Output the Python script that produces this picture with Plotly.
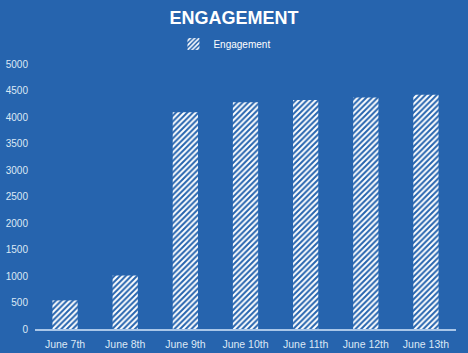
import plotly.graph_objects as go

categories = ["June 7th", "June 8th", "June 9th", "June 10th", "June 11th", "June 12th", "June 13th"]
engagement = [540, 1010, 4090, 4280, 4320, 4370, 4420]
y_ticks = [0, 500, 1000, 1500, 2000, 2500, 3000, 3500, 4000, 4500, 5000]

BG = "#2664AE"
TXT = "#DCE8F5"

fig = go.Figure()
fig.add_trace(go.Bar(
    x=categories, y=engagement, name="Engagement",
    marker=dict(color=BG, line=dict(width=0),
                pattern=dict(shape="/", fgcolor="white", bgcolor=BG, fgopacity=1,
                             size=4, solidity=0.5, fillmode="replace")),
    showlegend=True,
))

fig.update_layout(
    width=468, height=353,
    paper_bgcolor=BG, plot_bgcolor=BG,
    margin=dict(l=35, r=12, t=64, b=24, autoexpand=False),
    bargap=0.58,
    title=dict(text="<b>ENGAGEMENT</b>", x=0.5, xanchor="center",
               y=1 - 18 / 353, yanchor="middle", yref="container",
               font=dict(family="Liberation Sans, Arial", size=18, color="white")),
    legend=dict(orientation="h", x=0.45, xanchor="center", xref="paper",
                y=1 - 44 / 353, yanchor="middle", yref="container",
                font=dict(family="Liberation Sans, Arial", size=10, color="white"),
                bgcolor="rgba(0,0,0,0)", itemwidth=30),
    showlegend=True,
    xaxis=dict(showgrid=False, showline=True, linecolor="#A9C6E8", linewidth=1.5,
               ticks="", ticklabelstandoff=5,
               tickfont=dict(family="Liberation Sans, Arial", size=10.5, color=TXT)),
    yaxis=dict(range=[0, 5000], tickvals=y_ticks, showgrid=False, showline=False,
               zeroline=False, ticks="", ticklabelstandoff=6,
               tickfont=dict(family="Liberation Sans, Arial", size=10, color=TXT)),
)

fig.write_html("out.html")
